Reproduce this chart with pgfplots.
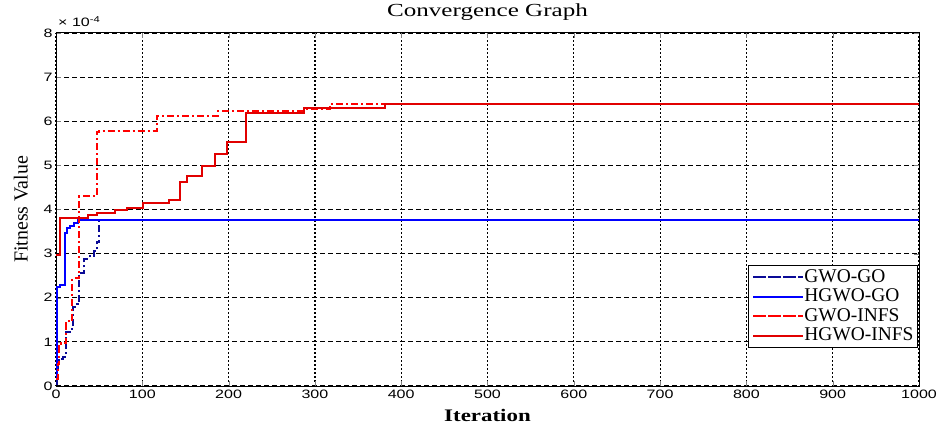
\documentclass[border=0pt]{standalone}
\usepackage{fontspec}
\setmainfont{Liberation Serif}
\newfontfamily\arial{Liberation Sans}
\usepackage{pgfplots}
\pgfplotsset{compat=1.18}
\definecolor{gwoblue}{RGB}{10,10,150}
\definecolor{hgwoblue}{RGB}{0,0,255}
\definecolor{gwored}{RGB}{255,0,0}
\definecolor{hgwored}{RGB}{225,0,0}

\begin{document}
\begin{tikzpicture}
\useasboundingbox (0,0) rectangle (939bp,428bp);
\begin{axis}[
    at={(56bp,42bp)}, anchor=south west,
    scale only axis, width=863bp, height=353bp,
    xmin=0, xmax=1000, ymin=0, ymax=8,
    xtick={0,100,...,1000}, ytick={0,1,...,8},
    tick align=inside, major tick length=5bp,
    ticklabel style={font=\arial\fontsize{12.2}{13}\selectfont},
    xticklabel={\scalebox{1.32}[1]{\pgfmathprintnumber[1000 sep={}]{\tick}}},
    yticklabel={\scalebox{1.32}[1]{\pgfmathprintnumber{\tick}}},
    /pgf/number format/assume math mode=true,
    grid=major,
    major x grid style={black, line width=1.2bp, dash pattern=on 1.5bp off 2.5bp},
    major y grid style={black, line width=1.2bp, dash pattern=on 5bp off 3bp},
    axis line style={black, line width=1bp},
    title={\fontsize{18.5}{20}\selectfont\scalebox{1.36}[1]{Convergence Graph}},
    title style={at={(axis description cs:0.5,1)}, anchor=base, yshift=11bp, inner sep=0pt},
    xlabel={\fontsize{17.7}{19}\selectfont\scalebox{1.3}[1]{\bfseries Iteration}},
    xlabel style={at={(axis description cs:0.5,0)}, anchor=base, yshift=-35.7bp, inner sep=0pt},
    ylabel={\fontsize{20}{21}\selectfont Fitness Value},
    ylabel style={at={(axis description cs:-0.0324,0.5)}, anchor=south, inner sep=0pt},
    legend style={at={(axis description cs:0.9988,0.343)}, anchor=north east,
        draw=black, line width=1bp, inner sep=4bp,
        font=\fontsize{19.5}{20}\selectfont, row sep=3.5bp, column sep=0bp,
        nodes={inner sep=0pt, text height=13bp, text depth=3bp}},
    legend cell align=left,
    legend image code/.code={\path (0bp,0bp) -- (50bp,0bp);\draw[#1] (6bp,0bp) -- (44bp,0bp);},
    const plot mark left,
    extra description/.code={
        \node[anchor=base west, font=\arial\fontsize{12.2}{13}\selectfont, inner sep=0pt,
          xshift=2bp, yshift=6.3bp] at (axis description cs:0,1)
          {\scalebox{1.32}[1]{× 10\textsuperscript{-4}}};
    },
]
% GWO-GO
\addplot[color=gwoblue, line width=2bp, dash pattern=on 7bp off 3bp on 2bp off 3bp] coordinates {
 (0,0.05) (1,0.3) (2,0.55) (3,0.62) (8,0.66) (12,1.22) (16,1.3) (20,1.8) (24,1.85)
 (27,2.57) (33,2.88) (39,2.95) (44,3.05) (47,3.27) (50,3.77) (1000,3.77)};
\addlegendentry{GWO-GO}
% HGWO-GO
\addplot[color=hgwoblue, line width=2bp] coordinates {
 (0,0.15) (1,2.25) (5,2.3) (10,3.46) (13,3.58) (16,3.62) (21,3.7) (25,3.77) (1000,3.77)};
\addlegendentry{HGWO-GO}
% GWO-INFS
\addplot[color=gwored, line width=2bp, dash pattern=on 7bp off 3bp on 2bp off 3bp] coordinates {
 (0,0.15) (2,0.5) (4,0.9) (6,0.98) (12,1.42) (15,1.47) (19,2.45) (27,4.3) (47,5.75)
 (50,5.78) (117,6.13) (188,6.24) (287,6.28) (317,6.38) (445,6.38)};
\addlegendentry{GWO-INFS}
% HGWO-INFS
\addplot[color=hgwored, line width=2bp] coordinates {
 (0,2.97) (5,3.8) (37,3.87) (47,3.93) (68,3.98) (82,4.03) (101,4.14) (131,4.22)
 (144,4.63) (152,4.76) (169,4.99) (184,5.26) (198,5.54) (220,6.18) (287,6.31)
 (381,6.38) (1000,6.38)};
\addlegendentry{HGWO-INFS}
\end{axis}
\end{tikzpicture}
\end{document}
